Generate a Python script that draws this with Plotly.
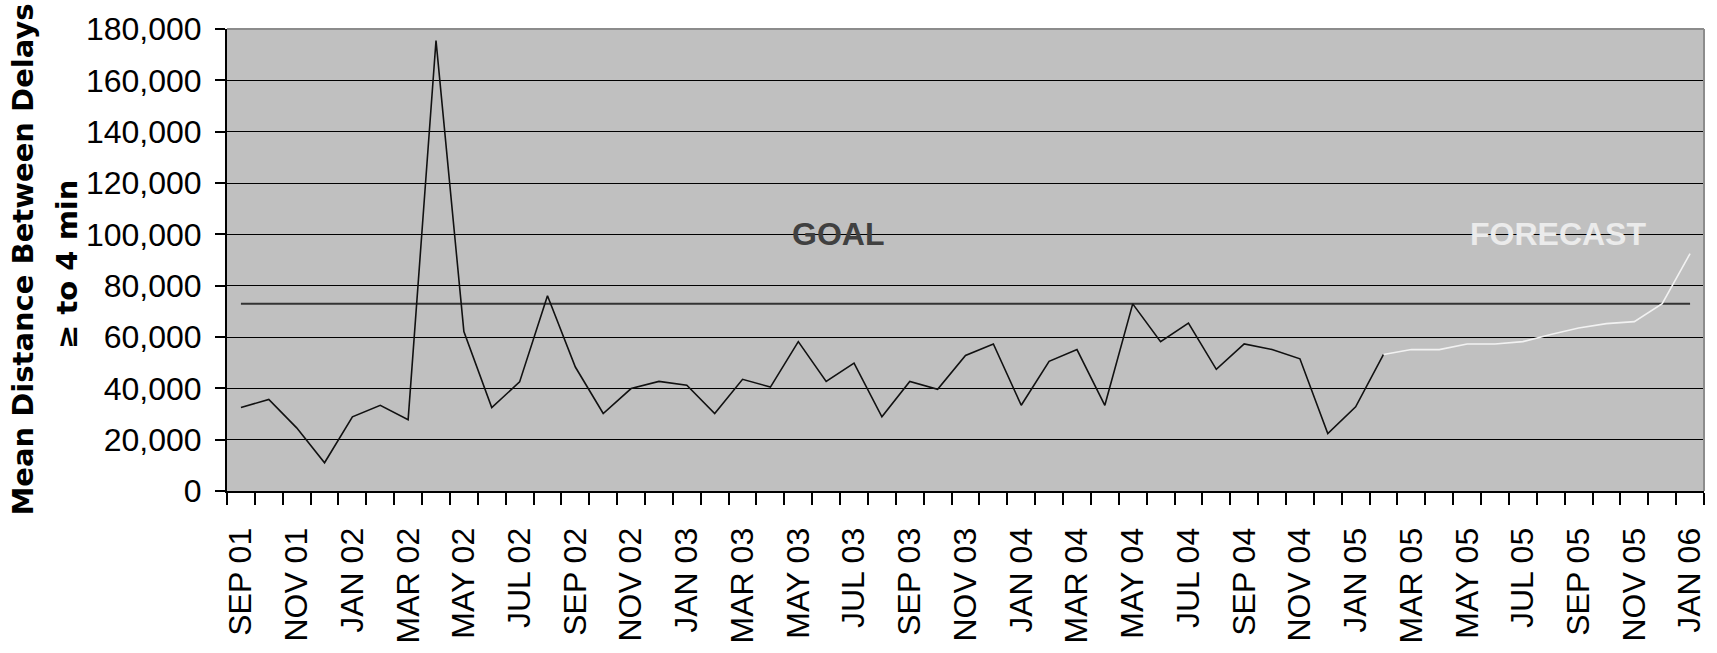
import plotly.graph_objects as go

months = [
    "SEP 01", "OCT 01", "NOV 01", "DEC 01",
    "JAN 02", "FEB 02", "MAR 02", "APR 02", "MAY 02", "JUN 02", "JUL 02", "AUG 02", "SEP 02", "OCT 02", "NOV 02", "DEC 02",
    "JAN 03", "FEB 03", "MAR 03", "APR 03", "MAY 03", "JUN 03", "JUL 03", "AUG 03", "SEP 03", "OCT 03", "NOV 03", "DEC 03",
    "JAN 04", "FEB 04", "MAR 04", "APR 04", "MAY 04", "JUN 04", "JUL 04", "AUG 04", "SEP 04", "OCT 04", "NOV 04", "DEC 04",
    "JAN 05", "FEB 05", "MAR 05", "APR 05", "MAY 05", "JUN 05", "JUL 05", "AUG 05", "SEP 05", "OCT 05", "NOV 05", "DEC 05",
    "JAN 06",
]

actual = [32500, 35700, 24600, 11000, 28900, 33400, 27800, 175500, 62100, 32500,
          42500, 76100, 48300, 30200, 39900, 42700, 41200, 30200, 43500, 40500,
          58200, 42700, 49800, 28900, 42700, 39600, 52800, 57300, 33400, 50500,
          55100, 33400, 72900, 58200, 65400, 47400, 57300, 55100, 51500, 22400,
          32800, 53200]

forecast_months = ["FEB 05", "MAR 05", "APR 05", "MAY 05", "JUN 05", "JUL 05",
                   "AUG 05", "SEP 05", "OCT 05", "NOV 05", "DEC 05", "JAN 06"]
forecast = [53200, 55100, 55100, 57300, 57300, 58200, 61000, 63500, 65200, 66000, 73000, 92500]

goal = 73000

tick_labels = months[::2]

idx = {m: i for i, m in enumerate(months)}
x_actual = [idx[m] for m in months[:len(actual)]]
x_forecast = [idx[m] for m in forecast_months]
x_ticks = [idx[m] for m in tick_labels]
x_bounds = [i - 0.5 for i in range(len(months) + 1)]

FONT = "Liberation Sans, Arial, sans-serif"

fig = go.Figure()

fig.add_trace(go.Scatter(
    x=[x_actual[0], x_forecast[-1]], y=[goal, goal], mode="lines",
    line=dict(color="#333333", width=2), hoverinfo="skip", showlegend=False))

fig.add_trace(go.Scatter(
    x=x_actual, y=actual, mode="lines",
    line=dict(color="#111111", width=1.6), showlegend=False))

fig.add_trace(go.Scatter(
    x=x_forecast, y=forecast, mode="lines",
    line=dict(color="#F2F2F2", width=1.6), showlegend=False))

fig.update_layout(
    width=1717, height=653, autosize=False,
    margin=dict(l=227, r=10, t=29, b=160, pad=0),
    paper_bgcolor="white", plot_bgcolor="#C0C0C0",
    font=dict(family=FONT, size=32, color="black"),
    showlegend=False,
)

fig.update_xaxes(
    type="linear", range=[-0.5, len(months) - 0.5],
    tickmode="array", tickvals=x_ticks, ticktext=tick_labels,
    tickangle=-90, ticks="outside", ticklen=12, tickcolor="rgba(0,0,0,0)",
    ticklabelstandoff=10,
    tickfont=dict(family=FONT, size=32, color="black"),
    showgrid=False, zeroline=False,
    showline=True, linecolor="black", linewidth=2,
    minor=dict(tickmode="array", tickvals=x_bounds, ticks="outside",
               ticklen=12, tickwidth=1.5, tickcolor="black", showgrid=False),
)

fig.update_yaxes(
    range=[0, 180000], tickmode="linear", tick0=0, dtick=20000,
    tickformat=",", ticks="outside", ticklen=10, tickwidth=1.5, tickcolor="black",
    ticklabelstandoff=7,
    tickfont=dict(family=FONT, size=32, color="black"),
    showgrid=True, gridcolor="black", gridwidth=1,
    zeroline=False, showline=True, linecolor="black", linewidth=2,
)

# gray top and right borders of the plot area
fig.add_shape(type="line", xref="paper", yref="paper", x0=0, x1=1, y0=1, y1=1,
              line=dict(color="#8C8C8C", width=2))
fig.add_shape(type="line", xref="paper", yref="paper", x0=1, x1=1, y0=0, y1=1,
              line=dict(color="#8C8C8C", width=2))

fig.add_annotation(text="<b>GOAL</b>", x=0.4135, xref="paper", y=100000, yref="y",
                   xanchor="center", yanchor="middle", showarrow=False,
                   font=dict(family=FONT, size=32, color="#404040"))
fig.add_annotation(text="<b>FORECAST</b>", x=0.901, xref="paper", y=100000, yref="y",
                   xanchor="center", yanchor="middle", showarrow=False,
                   font=dict(family=FONT, size=32, color="#EBEBEB"))

TITLE_FONT = dict(family="DejaVu Sans, Liberation Sans, Arial, sans-serif", size=29, color="black")
fig.add_annotation(text="<b>Mean Distance Between Delays</b>", x=-0.1384, xref="paper",
                   y=0.5, yref="paper", xanchor="center", yanchor="middle",
                   textangle=-90, showarrow=False, font=TITLE_FONT)
fig.add_annotation(text="<b>≥ to 4 min</b>", x=-0.1088, xref="paper",
                   y=0.49, yref="paper", xanchor="center", yanchor="middle",
                   textangle=-90, showarrow=False, font=TITLE_FONT)

fig.write_html("out.html")
